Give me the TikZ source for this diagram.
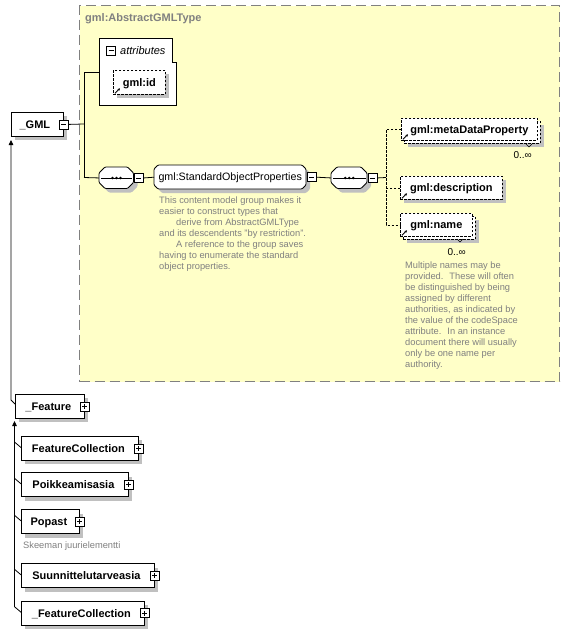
\documentclass[tikz,border=0pt]{standalone}
\usepackage{fontspec}
\setmainfont{Liberation Sans}
\usetikzlibrary{shadows,arrows.meta,calc}
\definecolor{yel}{RGB}{255,255,200}
\definecolor{shd}{RGB}{192,192,192}
\definecolor{txtgray}{RGB}{128,128,128}
% octagon with shadow: #1 style, #2 x1, #3 y1, #4 x2, #5 y2, #6 chamfer
\newcommand{\myoct}[6]{%
  \fill[shd, rounded corners=1pt] ({#2+#6+4},{#3+4}) -- ({#4-#6+4},{#3+4}) -- ({#4+4},{#3+#6+4}) -- ({#4+4},{#5-#6+4}) -- ({#4-#6+4},{#5+4}) -- ({#2+#6+4},{#5+4}) -- ({#2+4},{#5-#6+4}) -- ({#2+4},{#3+#6+4}) -- cycle;
  \draw[#1] ({#2+#6},#3) -- ({#4-#6},#3) -- (#4,{#3+#6}) -- (#4,{#5-#6}) -- ({#4-#6},#5) -- ({#2+#6},#5) -- (#2,{#5-#6}) -- (#2,{#3+#6}) -- cycle;}
\begin{document}
\begin{tikzpicture}[x=1pt,y=-1pt,
  lab/.style={font=\fontsize{11}{13}\selectfont\bfseries},
  elem/.style={draw=black, fill=white, line width=0.8pt, inner sep=0pt, anchor=north west,
    minimum height=24pt, text height=8.5pt, text depth=0.5pt, lab},
  dframe/.style={elem, dash pattern=on 2.5pt off 1.5pt},
  shad/.style={drop shadow={shadow xshift=4pt,shadow yshift=-4pt,fill=shd,opacity=1}},
  btn/.style={draw=black, fill=white, line width=0.7pt, minimum size=9pt, inner sep=0pt, shape=rectangle},
  btnminus/.style={btn, path picture={\draw[line width=0.7pt] ([xshift=2pt]path picture bounding box.west) -- ([xshift=-2pt]path picture bounding box.east);}},
  btnplus/.style={btn, path picture={\draw[line width=0.7pt] ([xshift=2pt]path picture bounding box.west) -- ([xshift=-2pt]path picture bounding box.east);
      \draw[line width=0.7pt] ([yshift=-2pt]path picture bounding box.north) -- ([yshift=2pt]path picture bounding box.south);}},
  octline/.style={draw=black, fill=white, line width=0.8pt, rounded corners=1pt},
  anchorbox/.style={draw=none, inner sep=0pt, anchor=north west},
  grptext/.style={anchorbox, minimum height=24pt, text height=8pt, text depth=0.5pt, font=\fontsize{10.7}{13}\selectfont},
  conn/.style={draw=black, line width=0.8pt},
  dconn/.style={conn, dash pattern=on 2.5pt off 1.5pt},
  gtext/.style={inner sep=0pt, align=left, text=txtgray, font=\fontsize{9.3}{11}\selectfont, anchor=north west},
  occ/.style={inner sep=0pt, anchor=base east, font=\fontsize{10}{12}\selectfont},
  refarrow/.style={line width=0.8pt, -{Stealth[length=2.6pt,width=2.6pt]}},
  uptip/.style={conn, -{Triangle[length=5pt,width=4.5pt]}}
]
\useasboundingbox (0,0) rectangle (570,634);
\fill[white] (0,0) rectangle (570,634);

% complex type area
\node[draw=txtgray, fill=yel, dash pattern=on 10pt off 5pt, line width=1.2pt, anchor=north west,
  minimum width=480pt, minimum height=376pt, inner sep=0pt] (ctype) at (79,5) {};
\node[anchor=base west, inner sep=0pt, lab, text=txtgray] (ctitle) at (85,21.5) {gml:AbstractGMLType};

% attributes box
\draw[fill=white, line width=0.8pt] (99,38) -- (172,38) -- (172,62) -- (176,62) -- (176,105) -- (99,105) -- cycle;
\coordinate (attrL) at (99,72);
\node[btnminus] (attrbtn) at (111,50.5) {};
\node[anchor=base west, inner sep=0pt, font=\fontsize{11}{13}\selectfont\itshape] (attrtxt) at (120,54.5) {attributes};
\node[dframe, shad, minimum width=52pt] (gid) at (113,70) {gml:id};
\draw[refarrow] ($(gid.south west)+(2,-1.5)$) -- ++(5,-5);

% _GML
\node[elem, shad, minimum width=52pt] (gml) at (11,112) {\_GML\kern5pt};
\node[btnminus] (gmlbtn) at (gml.east) {};

\coordinate (jt) at (84,72);
\coordinate (jm) at (84,124);
\coordinate (jb) at (84,177.5);
\draw[conn] (gmlbtn.east) -- (jm);
\draw[conn] (attrL) -- (jt) -- (jb);

% first sequence
\myoct{octline}{99}{167}{133.5}{188.5}{6}
\node[anchorbox, minimum width=34.5pt, minimum height=21.5pt] (seq1) at (99,167) {};
\draw[line width=0.9pt] ([xshift=2pt]seq1.west) -- ([xshift=-1.5pt]seq1.east);
\foreach \dx in {-4,0,4} \fill ([xshift=\dx pt]seq1.center) circle (1.4pt);
\node[btnminus] (seq1btn) at ($(seq1.east)+(5,0)$) {};
\draw[conn] (jb) -- (seq1.west);

% group
\myoct{octline}{154}{165}{306}{189}{4}
\node[grptext, minimum width=152pt] (sop) at (154,165) {gml:StandardObjectProperties};
\node[btnminus] (sopbtn) at ($(sop.east)+(5.5,0)$) {};
\draw[conn] (seq1btn.east) -- (sop.west);
\node[gtext] (sopdoc) at (159,195.5) {\strut This content model group makes it\\easier to construct types that\\\hspace*{17pt}derive from AbstractGMLType\\and its descendents "by restriction".\\\hspace*{17pt}A reference to the group saves\\having to enumerate the standard\\object properties.};

% second sequence
\myoct{octline}{331}{167}{367}{188.5}{6}
\node[anchorbox, minimum width=36pt, minimum height=21.5pt] (seq2) at (331,167) {};
\draw[line width=0.9pt] ([xshift=2pt]seq2.west) -- ([xshift=-1.5pt]seq2.east);
\foreach \dx in {-4,0,4} \fill ([xshift=\dx pt]seq2.center) circle (1.4pt);
\node[btnminus] (seq2btn) at ($(seq2.east)+(5,0)$) {};
\draw[conn] (sopbtn.east) -- (seq2.west);
\coordinate (dvm) at (386,177.5);
\draw[conn] (seq2btn.east) -- (dvm);

% children of the sequence
\node[dframe, shad, minimum width=136pt, minimum height=22pt] (metab) at (404,121) {};
\node[dframe, minimum width=136pt, minimum height=22pt] (meta) at (401,118) {gml:metaDataProperty};
\draw[refarrow] ($(meta.south west)+(2,-1.5)$) -- ++(5,-5);
\draw[line width=0.6pt] (526,144) -- (529,147) -- (532,144);
\node[occ] (metaocc) at (532,158.5) {0..∞};

\node[dframe, shad, minimum width=102pt, minimum height=23pt] (desc) at (400,176) {gml:description};
\draw[refarrow] ($(desc.south west)+(2,-1.5)$) -- ++(5,-5);

\node[dframe, shad, minimum width=72pt, minimum height=23pt] (nameb) at (403,216) {};
\node[dframe, minimum width=72pt, minimum height=23pt] (name) at (400,213) {gml:name};
\draw[refarrow] ($(name.south west)+(2,-1.5)$) -- ++(5,-5);
\draw[line width=0.6pt] (457,239) -- (460,242) -- (463,239);
\node[occ] (nameocc) at (466,255) {0..∞};
\node[gtext] (namedoc) at (405,260.3) {\strut Multiple names may be\\provided.~ These will often\\be distinguished by being\\assigned by different\\authorities, as indicated by\\the value of the codeSpace\\attribute.~ In an instance\\document there will usually\\only be one name per\\authority.};

\draw[dconn] (meta.west) -- (meta.west -| dvm) -- (name.west -| dvm) -- (name.west);
\draw[dconn] (desc.west) -- (desc.west -| dvm);

% derivation tree
\node[elem, shad, minimum width=69pt] (feat) at (15,394) {\_Feature\kern3pt};
\node[btnplus] (featbtn) at (feat.east) {};
\coordinate (v1top) at (11,140);
\coordinate (v1bend) at (11,400);
\coordinate (featin) at ($(feat.north west)+(0,10)$);
\draw[uptip] (featin) -- (v1bend) -- (v1top);

\node[elem, shad, minimum width=117pt] (fc) at (21,436) {FeatureCollection\kern3pt};
\node[btnplus] (fcbtn) at (fc.east) {};
\node[elem, shad, minimum width=107pt] (poik) at (21,472.3) {Poikkeamisasia\kern3pt};
\node[btnplus] (poikbtn) at (poik.east) {};
\node[elem, shad, minimum width=58pt] (popast) at (21,509.3) {Popast\kern3pt};
\node[btnplus] (popastbtn) at (popast.east) {};
\node[gtext, anchor=base west] (popastdoc) at (23,548) {Skeeman juurielementti};
\node[elem, shad, minimum width=133pt] (suun) at (21,563.3) {Suunnittelutarveasia\kern3pt};
\node[btnplus] (suunbtn) at (suun.east) {};
\node[elem, shad, minimum width=123pt] (ufc) at (21,600.7) {\_FeatureCollection\kern3pt};
\node[btnplus] (ufcbtn) at (ufc.east) {};

\coordinate (v2top) at (14.5,421);
\foreach \n in {fc,poik,popast,suun,ufc} {
  \coordinate (\n j) at ($(\n.north west)+(-6.5,6)$);
  \draw[conn] (\n j) -- ($(\n.north west)+(0,11.5)$);
}
\draw[uptip] (ufcj) -- (v2top);
\end{tikzpicture}
\end{document}
